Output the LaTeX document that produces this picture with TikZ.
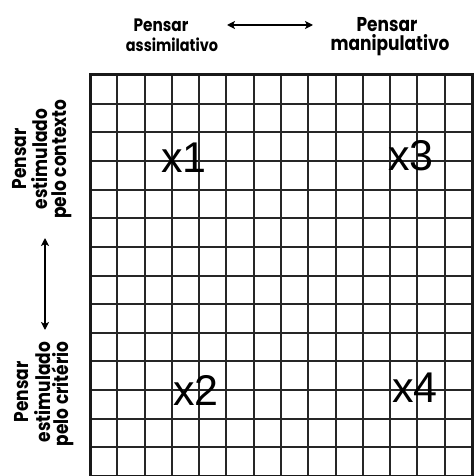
\documentclass[tikz,border=0pt]{standalone}
\usepackage{fontspec}
\setmainfont{Liberation Sans}
\newfontfamily\labfont{Poppins}[FakeStretch=0.85]
\usetikzlibrary{arrows.meta}
\begin{document}
\begin{tikzpicture}[x=1pt,y=-1pt,
  gridline/.style={line width=2pt,draw=black!85},
  border/.style={line width=3pt,draw=black!90},
  lab/.style={font=\labfont\bfseries,inner sep=0pt,anchor=base},
  sidelab/.style={lab,font=\labfont\bfseries\fontsize{20}{20}\selectfont,rotate=90},
  ptmark/.style={font=\fontsize{43}{43}\selectfont,inner sep=0pt,anchor=base},
  dblarrow/.style={{Stealth[length=8pt,width=8pt,inset=2pt]}-{Stealth[length=8pt,width=8pt,inset=2pt]},line width=1.8pt}]
\useasboundingbox (0,0) rectangle (474,476);
\fill[white] (0,0) rectangle (474,476);
% grid
\foreach \i in {1,...,13} {
  \draw[gridline] ({90+\i*27.286},75) -- ({90+\i*27.286},476);
  \draw[gridline] (90,{75+\i*28.643}) -- (472,{75+\i*28.643});
}
\draw[border] (90,476) -- (90,75) -- (472,75) -- (472,476);
\draw[border] (90,476) -- (472,476);
% top labels
\node[lab,font=\labfont\bfseries\fontsize{18}{18}\selectfont] (tl1) at (161,32) {Pensar};
\node[lab,font=\labfont\bfseries\fontsize{17}{17}\selectfont] (tl2) at (172,52) {assimilativo};
\node[lab,font=\labfont\bfseries\fontsize{20}{20}\selectfont] (tr1) at (387,32) {Pensar};
\node[lab,font=\labfont\bfseries\fontsize{20}{20}\selectfont] (tr2) at (390,51) {manipulativo};
\coordinate (ha) at (227,25);
\coordinate (hb) at (313,25);
\draw[dblarrow] (ha) -- (hb);
% side labels
\node[sidelab] (sa1) at (27,159) {Pensar};
\node[sidelab] (sa2) at (47,159) {estimulado};
\node[sidelab] (sa3) at (66,159) {pelo contexto};
\node[sidelab] (sb1) at (28,392) {Pensar};
\node[sidelab] (sb2) at (50,392) {estimulado};
\node[sidelab] (sb3) at (68,394) {pelo critério};
\coordinate (va) at (45,238);
\coordinate (vb) at (45,330);
\draw[dblarrow] (va) -- (vb);
% marks
\node[ptmark] (m1) at (184,172) {x1};
\node[ptmark] (m3) at (411,170) {x3};
\node[ptmark] (m2) at (196,405) {x2};
\node[ptmark] (m4) at (415,402) {x4};
\end{tikzpicture}
\end{document}
